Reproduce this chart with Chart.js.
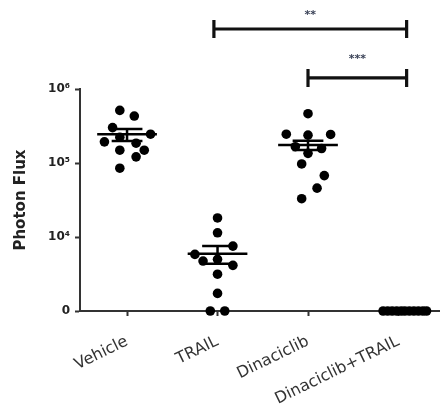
<!DOCTYPE html>
<html>
<head>
<meta charset="utf-8">
<script src="https://cdn.jsdelivr.net/npm/chart.js@4.4.1/dist/chart.umd.min.js"></script>
<style>
  html, body { margin: 0; padding: 0; background: #fff; }
  #wrap { width: 444px; height: 413px; }
</style>
</head>
<body>
<div id="wrap"><canvas id="fluxChart"></canvas></div>
<script>
// groups on the x axis
const categories = ["Vehicle", "TRAIL", "Dinaciclib", "Dinaciclib+TRAIL"];

// photon flux per animal (0 = no signal)
const vehicleFlux = [514000, 431000, 301000, 245000, 223000, 193000, 185000, 149000, 149000, 121000, 85000];
const trailFlux = [18100, 11400, 7530, 5820, 4990, 4730, 4140, 3140, 1730, 0, 0];
const dinaciclibFlux = [464000, 245000, 243000, 238000, 166000, 157000, 135000, 97000, 67600, 45700, 32900];
const comboFlux = [0, 0, 0, 0, 0, 0, 0, 0, 0, 0, 0];

// horizontal scatter of the dots, in category units
const vehicleJitter = [-0.08, 0.08, -0.16, 0.26, -0.08, -0.25, 0.10, -0.08, 0.19, 0.10, -0.08];
const trailJitter = [0, 0, 0.17, -0.25, 0, -0.16, 0.17, 0, 0, -0.08, 0.08];
const dinaciclibJitter = [0, -0.24, 0.25, 0, -0.14, 0.15, 0, -0.07, 0.18, 0.10, -0.07];
const comboJitter = [-0.17, -0.12, -0.07, -0.02, 0.03, 0.07, 0.12, 0.17, 0.22, 0.27, 0.31];

// mean and SEM per group
const meanFlux = [244000, 5960, 174600, 0];
const semFlux = [45000, 1600, 25000, 0];

// y axis ticks (1000 is drawn as "0")
const yTicks = [1000, 10000, 100000, 1000000];
const yFloor = 1000;

// significance brackets
const bracketFrom = [0.96, 2.0];
const bracketTo = [3.09, 3.09];
const bracketLevel = [6.47e6, 1.41e6];
const bracketTextLevel = [1.0e7, 2.54e6];
const bracketText = ["**", "***"];

const groups = [vehicleFlux, trailFlux, dinaciclibFlux, comboFlux];
const jitters = [vehicleJitter, trailJitter, dinaciclibJitter, comboJitter];

const points = [];
groups.forEach((vals, gi) => {
    vals.forEach((v, k) => {
        points.push({ x: gi + jitters[gi][k], y: v === 0 ? yFloor : v });
    });
});

const sup = { 3: "\u00b3", 4: "\u2074", 5: "\u2075", 6: "\u2076" };

const meanSemPlugin = {
    id: "meanSem",
    afterDatasetsDraw(chart) {
        const ctx = chart.ctx;
        const xs = chart.scales.x;
        const ys = chart.scales.y;
        ctx.save();
        ctx.strokeStyle = "#000";
        ctx.lineWidth = 2.5;
        meanFlux.forEach((m, i) => {
            // an all-zero group sits under its dots on the axis
            if (m === 0) return;
            const yv = v => ys.getPixelForValue(Math.max(v, yFloor));
            const ym = yv(m);
            const yHi = yv(m + semFlux[i]);
            const yLo = yv(m - semFlux[i]);
            ctx.beginPath();
            ctx.moveTo(xs.getPixelForValue(i - 0.33), ym);
            ctx.lineTo(xs.getPixelForValue(i + 0.33), ym);
            ctx.moveTo(xs.getPixelForValue(i), yHi);
            ctx.lineTo(xs.getPixelForValue(i), yLo);
            ctx.moveTo(xs.getPixelForValue(i - 0.17), yHi);
            ctx.lineTo(xs.getPixelForValue(i + 0.17), yHi);
            ctx.moveTo(xs.getPixelForValue(i - 0.17), yLo);
            ctx.lineTo(xs.getPixelForValue(i + 0.17), yLo);
            ctx.stroke();
        });
        ctx.restore();
    }
};

const bracketPlugin = {
    id: "brackets",
    afterDraw(chart) {
        const ctx = chart.ctx;
        const xs = chart.scales.x;
        const ys = chart.scales.y;
        ctx.save();
        ctx.strokeStyle = "#111";
        ctx.lineWidth = 3.2;
        bracketFrom.forEach((from, i) => {
            const x1 = xs.getPixelForValue(from);
            const x2 = xs.getPixelForValue(bracketTo[i]);
            const y = ys.getPixelForValue(bracketLevel[i]);
            ctx.beginPath();
            ctx.moveTo(x1, y);
            ctx.lineTo(x2, y);
            ctx.moveTo(x1, y - 9);
            ctx.lineTo(x1, y + 9);
            ctx.moveTo(x2, y - 9);
            ctx.lineTo(x2, y + 9);
            ctx.stroke();
            ctx.fillStyle = "#3a4257";
            ctx.font = "bold 11px 'DejaVu Sans'";
            ctx.textAlign = "center";
            ctx.textBaseline = "middle";
            ctx.fillText(bracketText[i], (x1 + x2) / 2, ys.getPixelForValue(bracketTextLevel[i]));
        });
        ctx.restore();
    }
};

new Chart(document.getElementById("fluxChart"), {
    type: "scatter",
    data: {
        datasets: [{
            data: points,
            backgroundColor: "#000",
            borderWidth: 0,
            pointRadius: 4.8,
            pointHoverRadius: 4.8,
            clip: false
        }]
    },
    options: {
        responsive: true,
        maintainAspectRatio: false,
        animation: false,
        layout: { padding: { top: 89, left: 0, right: 0, bottom: 0 } },
        plugins: {
            legend: { display: false },
            tooltip: { enabled: false }
        },
        scales: {
            x: {
                type: "linear",
                min: -0.52,
                max: 3.45,
                afterBuildTicks: s => { s.ticks = categories.map((c, i) => ({ value: i })); },
                afterFit: s => { s.height = 102; },
                ticks: {
                    autoSkip: false,
                    minRotation: 26,
                    maxRotation: 26,
                    padding: 16,
                    color: "#333",
                    font: { family: "DejaVu Sans", size: 16 },
                    callback: v => categories[v]
                },
                grid: {
                    drawOnChartArea: false,
                    drawTicks: true,
                    tickLength: 5,
                    tickWidth: 2,
                    tickColor: "#333"
                },
                border: { display: true, width: 2, color: "#333" }
            },
            y: {
                type: "logarithmic",
                min: 1000,
                max: 1000000,
                afterBuildTicks: s => { s.ticks = yTicks.map(v => ({ value: v })); },
                afterFit: s => { s.width = 80; },
                ticks: {
                    padding: 5,
                    color: "#222",
                    font: { family: "DejaVu Sans", size: 12, weight: "bold" },
                    callback: v => v === yFloor ? "0" : "10" + sup[Math.round(Math.log10(v))]
                },
                grid: {
                    drawOnChartArea: false,
                    drawTicks: true,
                    tickLength: 5,
                    tickWidth: 2,
                    tickColor: "#333"
                },
                border: { display: true, width: 2, color: "#333" },
                title: {
                    display: true,
                    text: "Photon Flux",
                    color: "#222",
                    font: { family: "DejaVu Sans", size: 15, weight: "bold" },
                    padding: { top: 12, bottom: 0 }
                }
            }
        }
    },
    plugins: [meanSemPlugin, bracketPlugin]
});
</script>
</body>
</html>
